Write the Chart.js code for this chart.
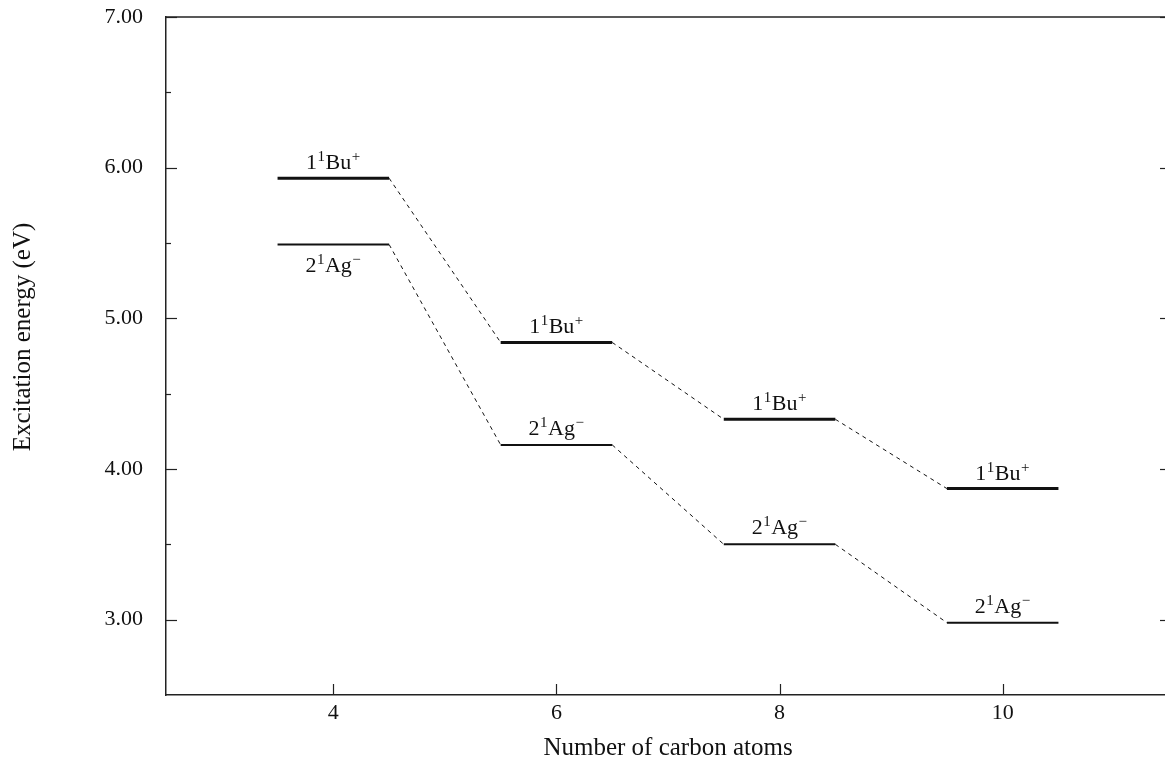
<!DOCTYPE html>
<html><head><meta charset="utf-8">
<script src="https://cdn.jsdelivr.net/npm/chart.js@4/dist/chart.umd.min.js"></script>
<style>
html,body{margin:0;padding:0;overflow:hidden;background:#fff;width:1165px;height:765px}
#wrap{position:absolute;left:0;top:0;width:1172px;height:765px}
</style></head>
<body><div id="wrap"><canvas id="c" width="1172" height="765"></canvas></div>
<script>
// ---- data ----
const carbonAtoms = [4, 6, 8, 10];
const bu = [5.93, 4.84, 4.33, 3.87];   // 1¹Bu⁺ excitation energies (eV)
const ag = [5.49, 4.16, 3.50, 2.98];   // 2¹Ag⁻ excitation energies (eV)
const yTickValues = [3, 4, 5, 6, 7];
const yMinorValues = [3.5, 4.5, 5.5, 6.5];
const xTickValues = [4, 6, 8, 10];
const buLabel = [["1", false], ["1", true], ["Bu", false], ["+", true]];
const agLabel = [["2", false], ["1", true], ["Ag", false], ["\u2212", true]];
const agLabelBelow = [true, false, false, false];
const xTitle = "Number of carbon atoms";
const yTitle = "Excitation energy (eV)";

// ---- build series ----
const HALF = 0.5;
function levelPoints(vals) {
  const pts = [];
  carbonAtoms.forEach((n, i) => {
    pts.push({x: n - HALF, y: vals[i]}, {x: n + HALF, y: vals[i]});
    if (i < carbonAtoms.length - 1) pts.push({x: n + 1, y: null});
  });
  return pts;
}
function connectorPoints(vals) {
  const pts = [];
  for (let i = 0; i < carbonAtoms.length - 1; i++) {
    pts.push({x: carbonAtoms[i] + HALF, y: vals[i]}, {x: carbonAtoms[i + 1] - HALF, y: vals[i + 1]});
    pts.push({x: carbonAtoms[i + 1], y: null});
  }
  return pts;
}

const INK = '#111';
const SERIF = "'Liberation Serif', 'Times New Roman', serif";

const decor = {
  id: 'decor',
  afterDraw(chart) {
    const {ctx, chartArea: a, scales: {x, y}} = chart;
    ctx.save();
    ctx.strokeStyle = '#222';
    ctx.lineWidth = 1.5;
    // top border
    ctx.beginPath(); ctx.moveTo(a.left, a.top); ctx.lineTo(a.right, a.top); ctx.stroke();
    ctx.lineWidth = 1.2;
    // y ticks (inward), left and right
    yTickValues.forEach(v => {
      const py = Math.round(y.getPixelForValue(v)) + 0.5;
      ctx.beginPath(); ctx.moveTo(a.left, py); ctx.lineTo(a.left + 11, py); ctx.stroke();
      ctx.beginPath(); ctx.moveTo(a.right, py); ctx.lineTo(a.right - 10, py); ctx.stroke();
    });
    yMinorValues.forEach(v => {
      const py = Math.round(y.getPixelForValue(v)) + 0.5;
      ctx.beginPath(); ctx.moveTo(a.left, py); ctx.lineTo(a.left + 5, py); ctx.stroke();
      ctx.beginPath(); ctx.moveTo(a.right, py); ctx.lineTo(a.right - 5, py); ctx.stroke();
    });
    // x ticks (inward)
    xTickValues.forEach(v => {
      const px = Math.round(x.getPixelForValue(v)) + 0.5;
      ctx.beginPath(); ctx.moveTo(px, a.bottom); ctx.lineTo(px, a.bottom - 11); ctx.stroke();
    });
    // y title
    ctx.fillStyle = INK;
    ctx.font = "25px " + SERIF;
    ctx.textAlign = 'center';
    ctx.textBaseline = 'middle';
    ctx.translate(23, 337);
    ctx.rotate(-Math.PI / 2);
    ctx.fillText(yTitle, 0, 0);
    ctx.restore();

    // state labels
    function rich(parts, cx, base) {
      const mainF = "22px " + SERIF, supF = "15px " + SERIF;
      let w = 0;
      parts.forEach(([t, sup]) => { ctx.font = sup ? supF : mainF; w += ctx.measureText(t).width + (sup ? 1 : 0); });
      let xx = cx - w / 2;
      ctx.textAlign = 'left';
      ctx.textBaseline = 'alphabetic';
      parts.forEach(([t, sup]) => {
        ctx.font = sup ? supF : mainF;
        ctx.fillText(t, xx + (sup ? 0.5 : 0), sup ? base - 8 : base);
        xx += ctx.measureText(t).width + (sup ? 1 : 0);
      });
    }
    ctx.save();
    ctx.fillStyle = INK;
    carbonAtoms.forEach((n, i) => {
      const cx = x.getPixelForValue(n);
      rich(buLabel, cx, y.getPixelForValue(bu[i]) - 9);
      const ay = y.getPixelForValue(ag[i]);
      rich(agLabel, cx, agLabelBelow[i] ? ay + 27 : ay - 10);
    });
    ctx.restore();
  }
};

new Chart(document.getElementById('c'), {
  type: 'scatter',
  data: {
    datasets: [
      {label: '1Bu levels', data: levelPoints(bu), showLine: true, borderColor: INK, borderWidth: 3, pointRadius: 0, spanGaps: false},
      {label: '2Ag levels', data: levelPoints(ag), showLine: true, borderColor: INK, borderWidth: 2, pointRadius: 0, spanGaps: false},
      {label: '1Bu trend', data: connectorPoints(bu), showLine: true, borderColor: INK, borderWidth: 1, borderDash: [4, 4], pointRadius: 0, spanGaps: false},
      {label: '2Ag trend', data: connectorPoints(ag), showLine: true, borderColor: INK, borderWidth: 1, borderDash: [4, 4], pointRadius: 0, spanGaps: false}
    ]
  },
  options: {
    responsive: false,
    animation: false,
    devicePixelRatio: 1,
    layout: {padding: {left: 0, top: 17, right: 2, bottom: 0}},
    plugins: {legend: {display: false}, tooltip: {enabled: false}},
    scales: {
      x: {
        type: 'linear', min: 2.5, max: 11.5,
        afterBuildTicks: s => { s.ticks = xTickValues.map(v => ({value: v})); },
        afterFit: s => { s.height = 70; s.paddingLeft = 0; s.paddingRight = 0; },
        grid: {display: false, drawTicks: false},
        border: {display: true, color: '#222', width: 1.5},
        ticks: {color: INK, font: {family: SERIF, size: 22}, padding: 5, maxRotation: 0, autoSkip: false, callback: v => String(v)},
        title: {display: true, text: xTitle, color: INK, font: {family: SERIF, size: 25}, padding: {top: 0, bottom: 2}}
      },
      y: {
        type: 'linear', min: 2.5, max: 7,
        afterBuildTicks: s => { s.ticks = yTickValues.map(v => ({value: v})); },
        afterFit: s => { s.width = 166; s.paddingTop = 0; s.paddingBottom = 0; },
        grid: {display: false, drawTicks: false},
        border: {display: true, color: '#222', width: 1.5},
        ticks: {color: INK, font: {family: SERIF, size: 22}, padding: 23, callback: v => Number(v).toFixed(2)}
      }
    }
  },
  plugins: [decor]
});
</script>
</body></html>
